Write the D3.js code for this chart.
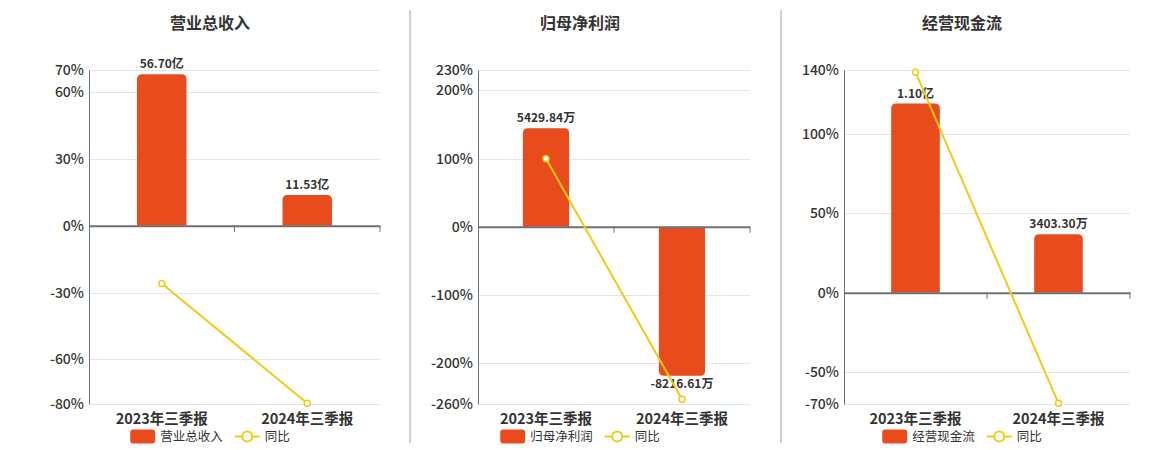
<!DOCTYPE html>
<html>
<head>
<meta charset="utf-8">
<script src="https://cdn.jsdelivr.net/npm/d3@7"></script>
<style>
  html, body { margin: 0; padding: 0; background: #fff; }
  svg { display: block; font-family: "Noto Sans CJK SC", "Noto Sans", sans-serif; }
</style>
</head>
<body>
<svg id="chart" width="1160" height="450"></svg>
<script>
// ---------- data ----------
const categories = ["2023年三季报", "2024年三季报"];
const panelTitles = ["营业总收入", "归母净利润", "经营现金流"];
const yoyName = "同比";

// bar values in 万元
const revenueValues = [567000, 115300];
const profitValues = [5429.84, -8216.61];
const cashflowValues = [11000, 3403.30];

// year-on-year growth (%)
const revenueYoY = [-25.9, -79.7];
const profitYoY = [99.7, -253.0];
const cashflowYoY = [138.6, -69.6];

// percent axis ticks
const revenueTicks = [-80, -60, -30, 0, 30, 60, 70];
const profitTicks = [-260, -200, -100, 0, 100, 200, 230];
const cashflowTicks = [-70, -50, 0, 50, 100, 140];

// hidden value-axis maxima (万元) for the bars
const revenueBarMax = 583000;
const profitBarMax = 8650;
const cashflowBarMax = 12950;

// ---------- styling / layout ----------
const BAR = "#e84c1d", LINE = "#f4c914", TXT = "#333", AXIS = "#6e7079", GRID = "#e0e6f1";
const plotTop = 70, plotBottom = 404;
const panels = [
  { title: panelTitles[0], values: revenueValues, yoy: revenueYoY, ticks: revenueTicks, barMax: revenueBarMax, left: 89, right: 380, center: 210 },
  { title: panelTitles[1], values: profitValues, yoy: profitYoY, ticks: profitTicks, barMax: profitBarMax, left: 478, right: 750, center: 580 },
  { title: panelTitles[2], values: cashflowValues, yoy: cashflowYoY, ticks: cashflowTicks, barMax: cashflowBarMax, left: 844, right: 1130, center: 962 }
];

function fmt(v) {
  return Math.abs(v) >= 10000 ? (v / 10000).toFixed(2) + "亿" : v.toFixed(2) + "万";
}

const svg = d3.select("#chart");

// separators
[410, 781].forEach(x => {
  svg.append("line").attr("x1", x).attr("x2", x).attr("y1", 10).attr("y2", 443)
    .attr("stroke", "#a0a0a0").attr("stroke-width", 1);
});

panels.forEach(p => {
  const g = svg.append("g");
  const pMin = d3.min(p.ticks), pMax = d3.max(p.ticks);
  const y = d3.scaleLinear().domain([pMin, pMax]).range([plotBottom, plotTop]);
  const barMin = p.barMax * pMin / pMax;
  const yb = d3.scaleLinear().domain([barMin, p.barMax]).range([plotBottom, plotTop]);
  const x = d3.scaleBand().domain(categories).range([p.left, p.right]).paddingInner(0).paddingOuter(0);
  const bw = x.bandwidth() * 0.34;
  const y0 = y(0);

  // title
  g.append("text").attr("x", p.center).attr("y", 29).attr("text-anchor", "middle")
    .attr("font-size", 16).attr("font-weight", "bold").attr("fill", TXT).text(p.title);

  // grid
  g.selectAll(".grid").data(p.ticks.filter(t => t !== 0)).join("line")
    .attr("x1", p.left).attr("x2", p.right)
    .attr("y1", d => Math.round(y(d)) + 0.5).attr("y2", d => Math.round(y(d)) + 0.5)
    .attr("stroke", GRID).attr("stroke-width", 1);

  // y axis
  const yAxis = d3.axisLeft(y).tickValues(p.ticks).tickSize(0).tickPadding(5).tickFormat(d => d + "%");
  const ya = g.append("g").attr("transform", `translate(${p.left},0)`).call(yAxis);
  ya.select(".domain").attr("stroke", AXIS).attr("stroke-width", 1);
  ya.selectAll("text").attr("font-size", 14).attr("font-weight", 500).attr("fill", TXT)
    .attr("font-family", '"Noto Sans CJK SC", sans-serif');

  // bars with rounded outer end
  const r = 5;
  g.selectAll(".bar").data(p.values.map((v, i) => ({ v, c: categories[i] }))).join("path")
    .attr("fill", BAR)
    .attr("d", d => {
      const cx = x(d.c) + x.bandwidth() / 2;
      const x0 = cx - bw / 2, x1 = cx + bw / 2;
      const yv = yb(d.v);
      if (d.v >= 0) {
        return `M${x0},${y0} L${x0},${yv + r} Q${x0},${yv} ${x0 + r},${yv} L${x1 - r},${yv} Q${x1},${yv} ${x1},${yv + r} L${x1},${y0} Z`;
      } else {
        return `M${x0},${y0} L${x0},${yv - r} Q${x0},${yv} ${x0 + r},${yv} L${x1 - r},${yv} Q${x1},${yv} ${x1},${yv - r} L${x1},${y0} Z`;
      }
    });

  // zero axis with ticks
  const xAxis = d3.axisBottom(x).tickSize(0).tickFormat("");
  const xa = g.append("g").attr("transform", `translate(0,${y0})`).call(xAxis);
  xa.select(".domain").attr("stroke", AXIS).attr("stroke-width", 2);
  xa.selectAll(".tick").remove();
  [x(categories[1]), p.right].forEach(tx => {
    g.append("line").attr("x1", tx).attr("x2", tx).attr("y1", y0).attr("y2", y0 + 6)
      .attr("stroke", AXIS).attr("stroke-width", 1);
  });

  // bar labels
  g.selectAll(".blabel").data(p.values.map((v, i) => ({ v, c: categories[i] }))).join("text")
    .attr("x", d => x(d.c) + x.bandwidth() / 2)
    .attr("y", d => d.v >= 0 ? yb(d.v) - 6 : yb(d.v) + 12)
    .attr("text-anchor", "middle").attr("font-size", 12).attr("font-weight", "bold").attr("fill", TXT)
    .text(d => fmt(d.v));

  // yoy line
  const pts = p.yoy.map((v, i) => [x(categories[i]) + x.bandwidth() / 2, y(v)]);
  g.append("path").attr("d", d3.line()(pts)).attr("fill", "none").attr("stroke", LINE).attr("stroke-width", 2);
  g.selectAll(".pt").data(pts).join("circle")
    .attr("cx", d => d[0]).attr("cy", d => d[1]).attr("r", 3)
    .attr("fill", "#fff").attr("stroke", LINE).attr("stroke-width", 1.5);

  // x category labels
  g.selectAll(".xl").data(categories).join("text")
    .attr("x", d => x(d) + x.bandwidth() / 2).attr("y", 424)
    .attr("text-anchor", "middle").attr("font-size", 14.5).attr("font-weight", "bold").attr("fill", TXT)
    .text(d => d);

  // legend
  const lg = g.append("g");
  const t1 = lg.append("text").attr("y", 441).attr("font-size", 12.5).attr("fill", TXT).text(p.title);
  const t2 = lg.append("text").attr("y", 441).attr("font-size", 12.5).attr("fill", TXT).text(yoyName);
  const w1 = t1.node().getComputedTextLength(), w2 = t2.node().getComputedTextLength();
  const total = 25 + 5 + w1 + 12 + 25 + 5 + w2;
  let lx = p.center - total / 2;
  lg.append("rect").attr("x", lx).attr("y", 429.5).attr("width", 25).attr("height", 14).attr("rx", 3).attr("fill", BAR);
  t1.attr("x", lx + 30);
  lx += 30 + w1 + 12;
  lg.append("line").attr("x1", lx).attr("x2", lx + 25).attr("y1", 436.5).attr("y2", 436.5).attr("stroke", LINE).attr("stroke-width", 2);
  lg.append("circle").attr("cx", lx + 12.5).attr("cy", 436.5).attr("r", 5).attr("fill", "#fff").attr("stroke", LINE).attr("stroke-width", 2);
  t2.attr("x", lx + 30);
});
</script>
</body>
</html>
